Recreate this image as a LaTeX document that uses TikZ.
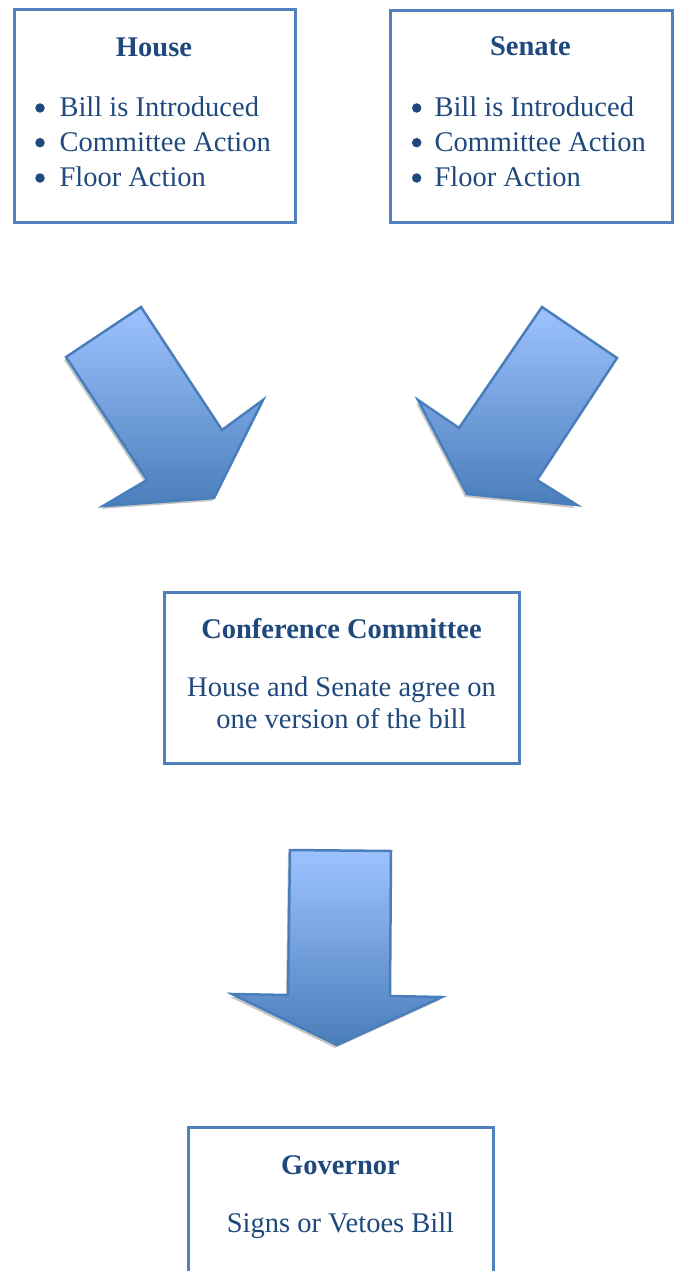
\documentclass[tikz,border=0pt]{standalone}
\usepackage{fontspec}
\setmainfont{Liberation Serif}
\usetikzlibrary{positioning,shadows}

\definecolor{txtblue}{HTML}{1F497D}
\definecolor{lineblue}{HTML}{4F81BD}
\definecolor{arrowtop}{HTML}{9DC3FF}
\definecolor{arrowbot}{HTML}{4A7EBB}
\definecolor{arrowline}{HTML}{4A7EBB}

\begin{document}
\begin{tikzpicture}
[x=1pt, y=-1pt, line width=3pt,
box/.style={rectangle, draw=lineblue, inner sep=0pt},
head/.style={anchor=base, inner sep=0pt, text=txtblue, font=\fontsize{28.5}{34}\selectfont\bfseries},
txt/.style={anchor=base, inner sep=0pt, text=txtblue, font=\fontsize{28.5}{34}\selectfont},
item/.style={anchor=base west, inner sep=0pt, text=txtblue, font=\fontsize{28.5}{34}\selectfont},
dot/.style={circle, fill=txtblue, draw=none, inner sep=0pt, minimum size=9.5pt},
bigarrow/.style={draw=arrowline, line width=2.5pt, top color=arrowtop, bottom color=arrowbot,
  drop shadow={shadow xshift=-2pt, shadow yshift=-3pt, fill=gray!45, opacity=1}}]

\clip (0,0) rectangle (677,1271);
\useasboundingbox (0,0) rectangle (677,1271);

% boxes
\node[box, minimum width=281pt, minimum height=212pt] (house) at (154.5,116) {};
\node[box, minimum width=282pt, minimum height=211pt] (senate) at (531,116.5) {};
\node[box, minimum width=355.5pt, minimum height=171.5pt] (conf) at (341.75,677.75) {};
\node[box, minimum width=305pt, minimum height=200pt] (gov) at (340.5,1227) {};

% House
\node[head] (househead) at (154,57) {House};
\node[dot] (hdot1) at (40,108) {};
\node[dot] (hdot2) at (40,142.7) {};
\node[dot] (hdot3) at (40,178) {};
\node[item] (hitem1) at (58,116.5) {Bill is Introduced};
\node[item] (hitem2) at (58,151.3) {Committee Action};
\node[item] (hitem3) at (58,186) {Floor Action};

% Senate
\node[head] (senatehead) at (530.5,56) {Senate};
\node[dot] (sdot1) at (416.7,108) {};
\node[dot] (sdot2) at (416.7,142.7) {};
\node[dot] (sdot3) at (416.7,178) {};
\node[item] (sitem1) at (433,116.5) {Bill is Introduced};
\node[item] (sitem2) at (433,151.3) {Committee Action};
\node[item] (sitem3) at (433,186) {Floor Action};

% Conference Committee
\node[head] (confhead) at (341.5,638) {Conference Committee};
\node[txt] (conftxt1) at (341.5,696.5) {House and Senate agree on};
\node[txt] (conftxt2) at (341.5,728) {one version of the bill};

% Governor
\node[head] (govhead) at (340.5,1174) {Governor};
\node[txt] (govtxt) at (340.5,1232) {Signs or Vetoes Bill};

% block arrows
\draw[bigarrow] (141,307) -- (66,357) -- (147,480) -- (103,506) -- (214,498)
  -- (263,400) -- (222,430) -- cycle;
\draw[bigarrow] (542,307) -- (617,358) -- (537,480) -- (577,505) -- (467,494)
  -- (418,400) -- (459,428) -- cycle;
\draw[bigarrow] (290,850) -- (391,851) -- (390,996) -- (442,997) -- (337,1045)
  -- (232,994) -- (288,995) -- cycle;

\end{tikzpicture}
\end{document}
